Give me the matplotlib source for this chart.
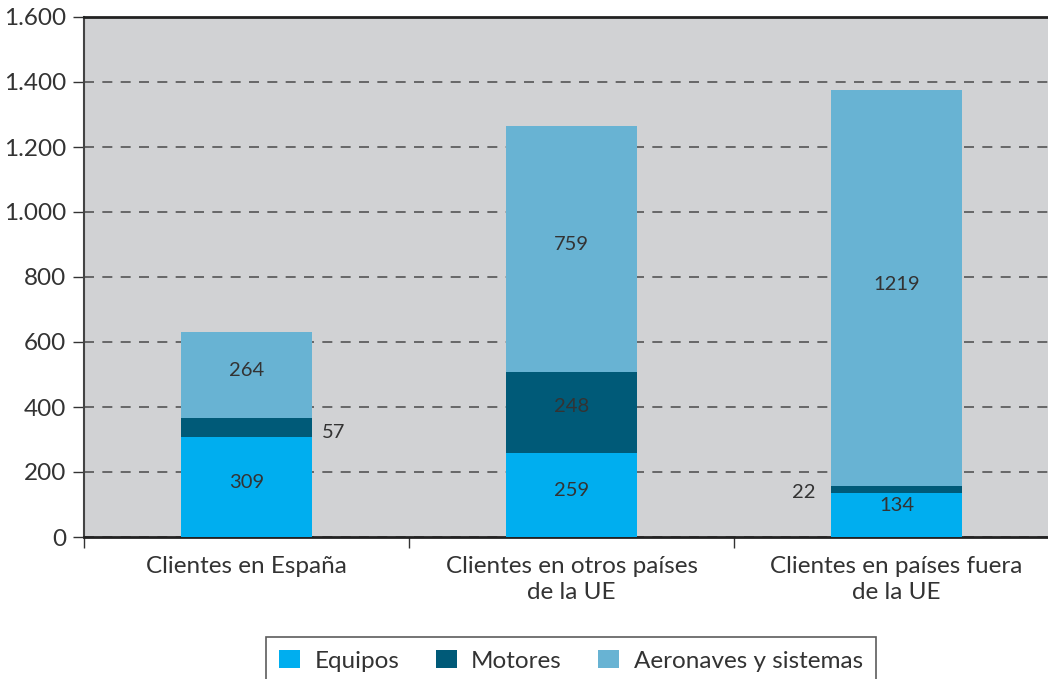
import matplotlib
matplotlib.use("Agg")
import matplotlib.pyplot as plt
from matplotlib.ticker import FuncFormatter, FixedLocator
import numpy as np

# datos
categorias = ["Clientes en España", "Clientes en otros países\nde la UE", "Clientes en países fuera\nde la UE"]
equipos = [309, 259, 134]
motores = [57, 248, 22]
aeronaves = [264, 759, 1219]
series_nombres = ["Equipos", "Motores", "Aeronaves y sistemas"]

colores = ["#00AEEF", "#005A78", "#68B3D3"]
texto = "#333333"

plt.rcParams['font.family'] = ['Lato', 'DejaVu Sans']

fig = plt.figure(figsize=(10.48, 6.79), dpi=100)
ax = fig.add_axes([84/1048, 142/679, 975/1048, 520/679])
ax.set_facecolor("#D1D2D4")

x = np.arange(len(categorias))
w = 0.403
b1 = ax.bar(x, equipos, w, color=colores[0], label=series_nombres[0], zorder=3)
b2 = ax.bar(x, motores, w, bottom=equipos, color=colores[1], label=series_nombres[1], zorder=3)
base3 = np.array(equipos) + np.array(motores)
b3 = ax.bar(x, aeronaves, w, bottom=base3, color=colores[2], label=series_nombres[2], zorder=3)

ax.set_xlim(-0.5, 2.5)
ax.set_ylim(0, 1600)
ax.set_yticks(range(0, 1601, 200))
ax.yaxis.set_major_formatter(FuncFormatter(lambda v, p: f"{int(v):,}".replace(",", ".")))
ax.yaxis.grid(True, linestyle=(0, (6, 5)), color="#555555", linewidth=1.2, zorder=1)
ax.set_axisbelow(True)

ax.set_xticks(x)
ax.set_xticklabels(categorias, linespacing=1.25)
ax.tick_params(axis="x", length=0, pad=14, labelsize=17.5, labelcolor=texto)
ax.xaxis.set_minor_locator(FixedLocator([-0.5, 0.5, 1.5]))
ax.tick_params(axis="x", which="minor", length=8, width=1, color="#333333", direction="out")
ax.tick_params(axis="y", length=8, width=1, color="#333333", labelsize=17.5, labelcolor=texto, pad=5)

for s in ["top", "bottom"]:
    ax.spines[s].set_color("#222222")
    ax.spines[s].set_linewidth(2)
ax.spines["left"].set_color("#444444")
ax.spines["left"].set_linewidth(1.5)
ax.spines["right"].set_visible(False)

fs = 14.5
for i in range(len(categorias)):
    # Equipos
    off = 7 if equipos[i] < 200 else 3
    ax.annotate(str(equipos[i]), (x[i], equipos[i] / 2), xytext=(0, off), textcoords="offset points",
                ha="center", va="center", fontsize=fs, color=texto, zorder=4)
    # Motores
    if motores[i] > 100:
        ax.annotate(str(motores[i]), (x[i], equipos[i] + motores[i] / 2), xytext=(0, 4), textcoords="offset points",
                    ha="center", va="center", fontsize=fs, color=texto, zorder=4)
    # Aeronaves
    ax.annotate(str(aeronaves[i]), (x[i], base3[i] + aeronaves[i] / 2), xytext=(0, 3), textcoords="offset points",
                ha="center", va="center", fontsize=fs, color=texto, zorder=4)

# etiquetas pequeñas fuera de la barra
ax.annotate(str(motores[0]), (x[0] + w / 2, equipos[0] + motores[0] / 2), xytext=(7, -4),
            textcoords="offset points", ha="left", va="center", fontsize=fs, color=texto, zorder=4)
ax.annotate(str(motores[2]), (x[2] - w / 2, equipos[2] + motores[2] / 2), xytext=(-11, -2),
            textcoords="offset points", ha="right", va="center", fontsize=fs, color=texto, zorder=4)

leg = fig.legend(handles=[b1, b2, b3], labels=series_nombres, loc="upper center",
                 bbox_to_anchor=(571/1048, 42/679), ncol=3, frameon=True, fancybox=False,
                 fontsize=17.5, handlelength=0.85, handleheight=0.75, columnspacing=1.5,
                 handletextpad=0.6, borderpad=0.55, borderaxespad=0, labelcolor=texto)
leg.get_frame().set_edgecolor("#333333")
leg.get_frame().set_linewidth(1.2)

fig.savefig("out.png", dpi=100)
